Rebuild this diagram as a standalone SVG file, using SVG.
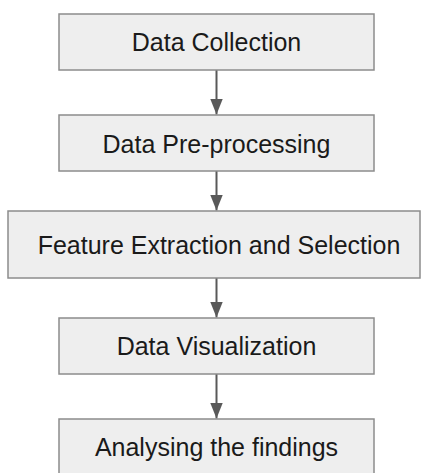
<svg xmlns="http://www.w3.org/2000/svg" width="421" height="473" viewBox="0 0 421 473">
<defs>
<style>
.box{fill:#eeeeee;stroke:#8c8c8c;stroke-width:1.5}
.lbl{font-family:"Liberation Sans",Arial,sans-serif;font-size:25px;fill:#1a1a1a;text-anchor:middle}
.conn{stroke:#595959;stroke-width:2;fill:none}
</style>
<marker id="ah" markerWidth="8" markerHeight="6.4" refX="8" refY="3.2" orient="auto" markerUnits="strokeWidth">
<path d="M0,0 L8,3.2 L0,6.4 z" fill="#595959"/>
</marker>
</defs>
<rect width="421" height="473" fill="#ffffff"/>
<g id="connectors">
<line class="conn" x1="216.5" y1="70" x2="216.5" y2="114.5" marker-end="url(#ah)"/>
<line class="conn" x1="216.5" y1="171" x2="216.5" y2="210.5" marker-end="url(#ah)"/>
<line class="conn" x1="216.5" y1="278" x2="216.5" y2="317.5" marker-end="url(#ah)"/>
<line class="conn" x1="216.5" y1="374" x2="216.5" y2="418.5" marker-end="url(#ah)"/>
</g>
<g id="n1"><rect class="box" x="59" y="14" width="315" height="56"/><text class="lbl" x="216.5" y="51">Data Collection</text></g>
<g id="n2"><rect class="box" x="59" y="115" width="315" height="56"/><text class="lbl" x="216.5" y="152.5">Data Pre-processing</text></g>
<g id="n3"><rect class="box" x="8" y="211" width="412" height="67"/><text class="lbl" x="219" y="253.5">Feature Extraction and Selection</text></g>
<g id="n4"><rect class="box" x="59" y="318" width="315" height="56"/><text class="lbl" x="216.5" y="355">Data Visualization</text></g>
<g id="n5"><rect class="box" x="59" y="419" width="315" height="56"/><text class="lbl" x="216.5" y="456">Analysing the findings</text></g>
</svg>
